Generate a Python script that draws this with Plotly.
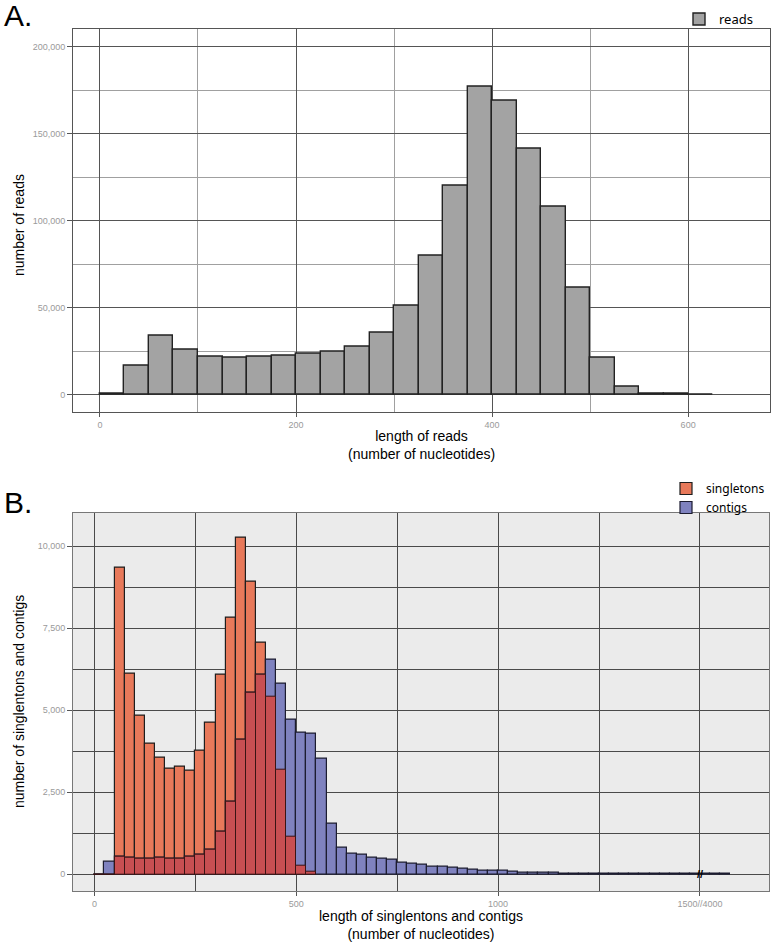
import plotly.graph_objects as go

# ---------------- Panel A data: reads length histogram (bin width 25) ----------------
reads_bins = [0, 25, 50, 75, 100, 125, 150, 175, 200, 225, 250, 275, 300,
              325, 350, 375, 400, 425, 450, 475, 500, 525, 550, 575, 600]
reads_counts = [800, 17100, 33800, 26100, 22100, 21500, 21700, 22500, 23800,
                24600, 27900, 35500, 51500, 79900, 120400, 176800, 169000,
                141500, 108300, 61500, 21300, 4600, 700, 500, 400]

# ---------------- Panel B data: singletons & contigs (bin width 25) ----------------
b_bins = [0, 25, 50, 75, 100, 125, 150, 175, 200, 225, 250, 275, 300, 325,
          350, 375, 400, 425, 450, 475, 500, 525, 550, 575, 600, 625, 650,
          675, 700, 725, 750, 775, 800, 825, 850, 875, 900, 925, 950, 975,
          1000, 1025, 1050, 1075, 1100, 1125, 1150, 1175, 1200, 1225, 1250,
          1275, 1300, 1325, 1350, 1375, 1400, 1425, 1450, 1475, 1500, 1525,
          1550]
singletons = [0, 0, 9360, 6130, 4830, 3975, 3540, 3230, 3265, 3170, 3770,
              4610, 6100, 7815, 10250, 8910, 7060, 5415, 3180, 1160, 265, 70]
contigs = [0, 375, 549, 497, 476, 467, 508, 488, 467, 549, 599, 762, 1290,
           2214, 4095, 5528, 6087, 6534, 5824, 4700, 4330, 4287, 3525, 1545,
           800, 640, 590, 520, 485, 445, 365, 325, 295, 235, 233, 203, 183,
           152, 122, 110, 100, 91, 61, 61, 51, 51, 30, 30, 25, 20, 25, 18, 28,
           15, 22, 12, 18, 10, 15, 12, 20, 10, 8]

b_tickvals = [0, 500, 1000, 1500]
b_ticktext = ["0", "500", "1000", "1500//4000"]

BIN_W = 25
W, H = 774, 946

# overlap of the two distributions (drawn in red)
overlap = [min(s, c) for s, c in zip(singletons, contigs)]

FONT = "Liberation Sans, Arial, sans-serif"
TICKFONT = dict(family=FONT, size=9, color="#9a9a9a")

fig = go.Figure()

fig.add_trace(go.Bar(
    x=reads_bins, y=reads_counts, width=BIN_W, offset=0, name="reads",
    marker=dict(color="#a3a3a3", line=dict(color="#222222", width=1.4)),
    xaxis="x", yaxis="y", legend="legend"))

fig.add_trace(go.Bar(
    x=b_bins[:len(singletons)], y=singletons, width=BIN_W, offset=0,
    name="singletons",
    marker=dict(color="#e8795a", line=dict(color="#1e1e1e", width=1.2)),
    xaxis="x2", yaxis="y2", legend="legend2"))
fig.add_trace(go.Bar(
    x=b_bins, y=contigs, width=BIN_W, offset=0, name="contigs",
    marker=dict(color="#7f82bf", line=dict(color="#1c1c30", width=1.2)),
    xaxis="x2", yaxis="y2", legend="legend2"))
fig.add_trace(go.Bar(
    x=b_bins[:len(overlap)], y=overlap, width=BIN_W, offset=0,
    name="overlap", showlegend=False,
    marker=dict(color="#c84f52", line=dict(color="#3a1414", width=1.0)),
    xaxis="x2", yaxis="y2"))

def px_x(p):
    return p / W

def px_y(p):
    return 1 - p / H

common_axis = dict(automargin=False, zeroline=False, showline=True,
                   mirror=True, linewidth=1, ticks="outside",
                   tickcolor="#555", tickfont=TICKFONT)

fig.update_layout(
    width=W, height=H,
    margin=dict(l=0, r=0, t=0, b=0, autoexpand=False),
    paper_bgcolor="white", plot_bgcolor="white",
    barmode="overlay", bargap=0,
    showlegend=True,
    font=dict(family=FONT, color="black"),
    xaxis=dict(
        domain=[px_x(73), px_x(770)], anchor="y",
        range=[-27.5, 683.5],
        tickvals=[0, 200, 400, 600], ticklen=4,
        showgrid=True, gridcolor="#555555", gridwidth=1,
        minor=dict(dtick=100, tick0=0, showgrid=True,
                   gridcolor="#a0a0a0", gridwidth=1),
        linecolor="#555555", **common_axis),
    yaxis=dict(
        domain=[px_y(411.7), px_y(28.7)], anchor="x",
        range=[-9600, 210300],
        dtick=50000, tickformat=",", ticklen=5,
        showgrid=True, gridcolor="#555555", gridwidth=1,
        minor=dict(dtick=25000, tick0=0, showgrid=True,
                   gridcolor="#a0a0a0", gridwidth=1),
        linecolor="#555555", **common_axis),
    xaxis2=dict(
        domain=[px_x(73), px_x(769)], anchor="y2",
        range=[-53, 1671],
        tickvals=b_tickvals, ticktext=b_ticktext, ticklen=4,
        showgrid=True, gridcolor="#4a4a4a", gridwidth=1,
        minor=dict(dtick=250, tick0=0, showgrid=True,
                   gridcolor="#4a4a4a", gridwidth=1),
        linecolor="#777777", **common_axis),
    yaxis2=dict(
        domain=[px_y(891), px_y(512.7)], anchor="x2",
        range=[-510, 11024],
        dtick=2500, tickformat=",", ticklen=5,
        showgrid=True, gridcolor="#4a4a4a", gridwidth=1,
        minor=dict(dtick=1250, tick0=0, showgrid=True,
                   gridcolor="#4a4a4a", gridwidth=1),
        linecolor="#777777", **common_axis),
    legend=dict(
        x=px_x(758), xanchor="right", y=px_y(4), yanchor="top",
        bgcolor="rgba(0,0,0,0)", font=dict(family="Noto Sans", size=13),
        itemwidth=30, tracegroupgap=0),
    legend2=dict(
        x=px_x(770), xanchor="right", y=px_y(474), yanchor="top",
        bgcolor="rgba(0,0,0,0)", font=dict(family="Noto Sans", size=12),
        itemwidth=30, tracegroupgap=0),
)

# grey background of panel B
fig.add_shape(type="rect", xref="x2 domain", yref="y2 domain",
              x0=0, x1=1, y0=0, y1=1, layer="below",
              fillcolor="#ebebeb", line=dict(width=0))

annots = [
    dict(text="A.", x=px_x(2), y=px_y(-3), xanchor="left", yanchor="top",
         font=dict(size=30, family=FONT)),
    dict(text="B.", x=px_x(2), y=px_y(484), xanchor="left", yanchor="top",
         font=dict(size=30, family=FONT)),
    dict(text="number of reads", x=px_x(19), y=px_y(225), textangle=-90,
         xanchor="center", yanchor="middle", font=dict(size=14, family=FONT)),
    dict(text="length of reads<br>(number of nucleotides)",
         x=px_x(421), y=px_y(445), xanchor="center", yanchor="middle",
         font=dict(size=14, family=FONT)),
    dict(text="number of singlentons and contigs", x=px_x(19), y=px_y(702),
         textangle=-90, xanchor="center", yanchor="middle",
         font=dict(size=14, family=FONT)),
    dict(text="length of singlentons and contigs<br>(number of nucleotides)",
         x=px_x(421), y=px_y(925), xanchor="center", yanchor="middle",
         font=dict(size=14, family=FONT)),
]
for a in annots:
    fig.add_annotation(xref="paper", yref="paper", showarrow=False, **a)

# axis-break mark at 1500 on the baseline
fig.add_annotation(xref="x2", yref="y2", x=1500, y=0, text="<b>//</b>",
                   showarrow=False, font=dict(size=11, color="black",
                                              family=FONT))

fig.write_html(
    "out.html",
    config={"displayModeBar": False},
    post_script="document.body.style.margin='0';"
                "document.body.style.overflow='hidden';")
